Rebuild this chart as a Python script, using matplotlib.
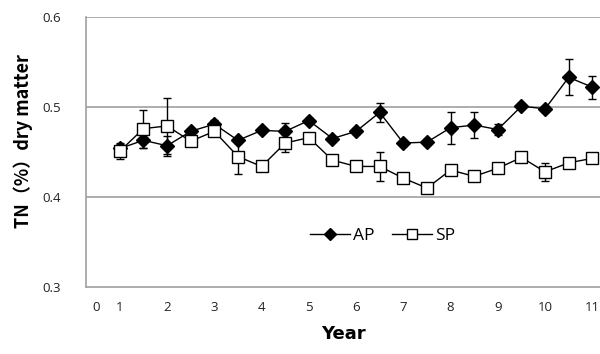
import numpy as np
import matplotlib
matplotlib.use("Agg")
from matplotlib import pyplot as plt
from matplotlib.lines import Line2D

# sampling years (half-year steps)
years = [1, 1.5, 2, 2.5, 3, 3.5, 4, 4.5, 5, 5.5, 6, 6.5, 7, 7.5, 8, 8.5, 9, 9.5, 10, 10.5, 11]

ap = [0.454, 0.463, 0.457, 0.473, 0.481, 0.463, 0.474, 0.473, 0.485, 0.465, 0.473,
      0.494, 0.460, 0.461, 0.477, 0.480, 0.475, 0.501, 0.498, 0.533, 0.522]
ap_err = [0.004, 0.008, 0.011, 0.003, 0.005, 0.003, 0.003, 0.009, 0.003, 0.003, 0.003,
          0.011, 0.003, 0.003, 0.018, 0.014, 0.006, 0.003, 0.003, 0.020, 0.013]

sp = [0.451, 0.476, 0.479, 0.462, 0.473, 0.445, 0.434, 0.460, 0.466, 0.441, 0.434,
      0.434, 0.421, 0.410, 0.430, 0.423, 0.432, 0.444, 0.428, 0.438, 0.443]
sp_err = [0.009, 0.021, 0.031, 0.004, 0.004, 0.019, 0.003, 0.010, 0.003, 0.003, 0.003,
          0.016, 0.003, 0.003, 0.003, 0.004, 0.003, 0.003, 0.010, 0.003, 0.003]

tick_pos = [0.5] + list(range(1, 12))
tick_labels = [str(i) for i in range(0, 12)]

plt.rcParams['font.family'] = ['Open Sans', 'DejaVu Sans']

fig = plt.figure(figsize=(6, 3.54), dpi=100)
ax = fig.add_axes([0.143, 0.189, 0.86, 0.763])

ax.errorbar(years, ap, yerr=ap_err, color="black", lw=1, marker="D", ms=7,
            mfc="black", mec="black", capsize=3, elinewidth=1, zorder=3)
ax.errorbar(years, sp, yerr=sp_err, color="black", lw=1, marker="s", ms=9,
            mfc="white", mec="black", capsize=3, elinewidth=1, zorder=3)

ax.set_xlim(0.28, 11.2)
ax.set_ylim(0.3, 0.6)
ax.set_yticks([0.3, 0.4, 0.5, 0.6])
ax.set_yticklabels(["0.3", "0.4", "0.5", "0.6"])
ax.set_xticks(tick_pos)
ax.set_xticklabels(tick_labels)
ax.tick_params(axis="both", length=0, labelsize=9.5, colors="#222222")
ax.tick_params(axis="y", pad=18)
ax.tick_params(axis="x", pad=10)

for y in [0.4, 0.5, 0.6]:
    ax.axhline(y, color="#a0a0a0", lw=1.2, zorder=1)
for s in ["top", "right"]:
    ax.spines[s].set_visible(False)
for s in ["left", "bottom"]:
    ax.spines[s].set_color("#a0a0a0")
    ax.spines[s].set_linewidth(1.2)

ax.set_xlabel("Year", fontsize=13, fontweight="bold", labelpad=8,
              family=["DejaVu Sans"])
ax.set_ylabel("TN（%）dry matter", fontsize=13, fontweight="bold",
              family=["Noto Sans CJK JP", "DejaVu Sans"])
ax.yaxis.set_label_coords(-0.103, 0.54)

handles = [
    Line2D([], [], color="black", lw=1, marker="D", ms=6, mfc="black", mec="black"),
    Line2D([], [], color="black", lw=1, marker="s", ms=7, mfc="white", mec="black"),
]
ax.legend(handles, ["AP", "SP"], loc="center", bbox_to_anchor=(0.575, 0.19), ncol=2,
          frameon=False, fontsize=12.5, handlelength=2.3, handletextpad=0.2,
          columnspacing=1.0)

fig.savefig("out.png", dpi=100)
